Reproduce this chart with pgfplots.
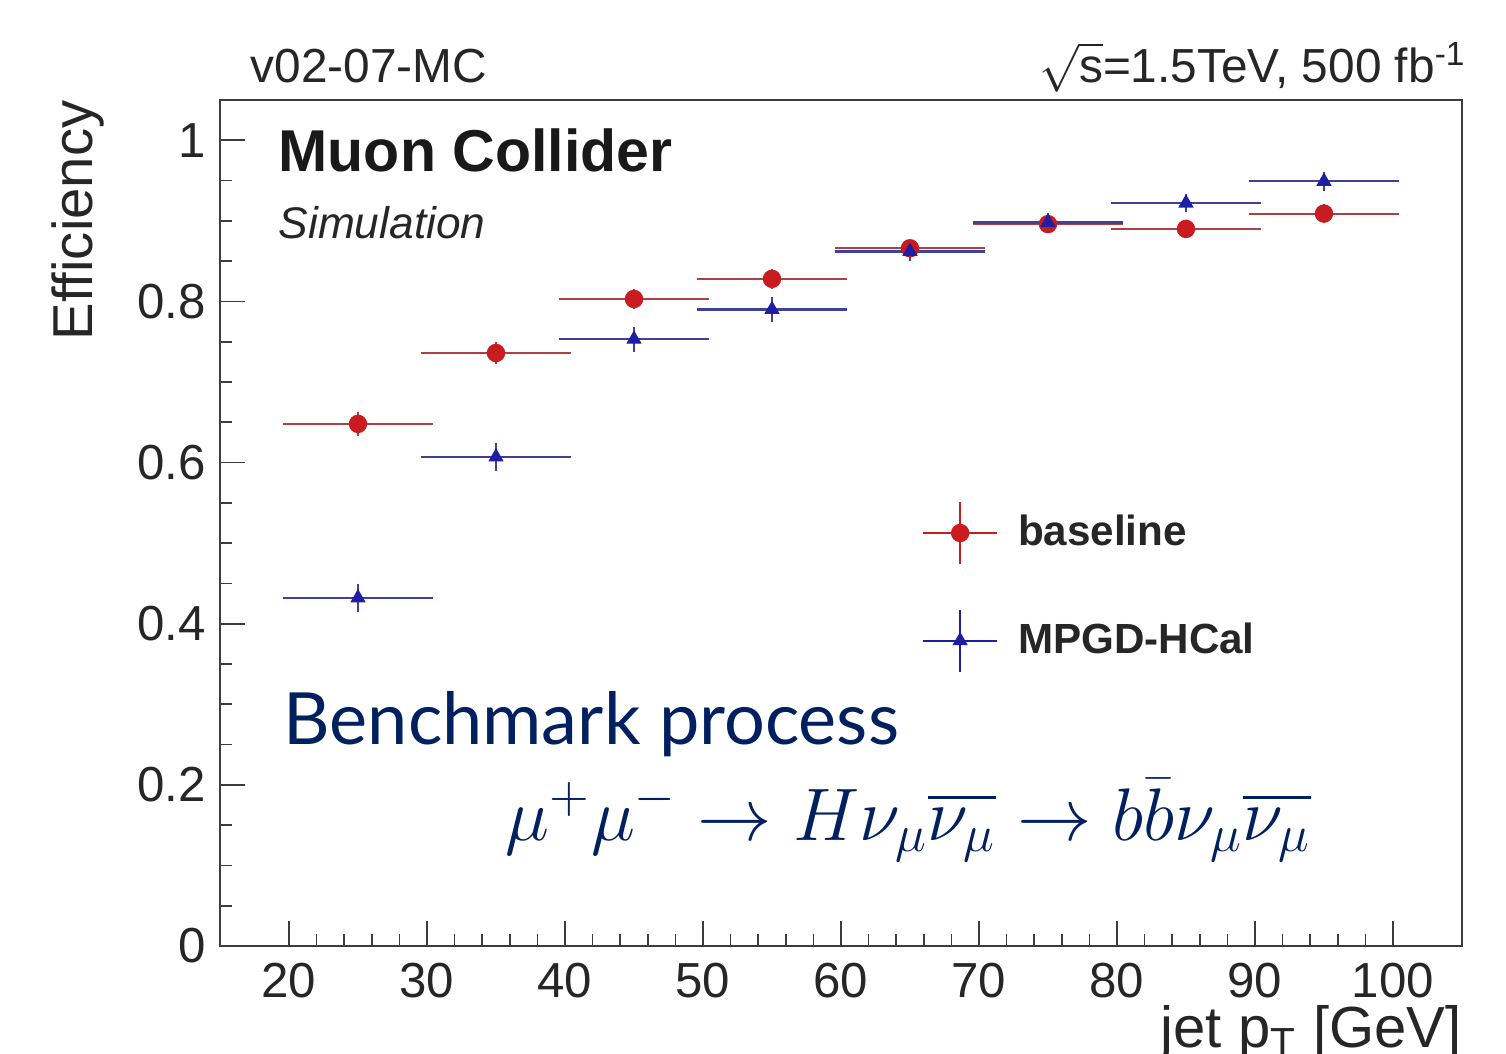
\documentclass[border=0pt]{standalone}
\usepackage{fix-cm}
\usepackage{amsmath}
\usepackage{fontspec}
\setmainfont{Liberation Sans}
\newfontfamily\bmfont{Lato}
\usepackage{pgfplots}
\usepackage{pgfplotstable}
\pgfplotsset{compat=1.18}
\definecolor{rootred}{RGB}{200,28,32}
\definecolor{rootblue}{RGB}{30,30,165}
\definecolor{navy}{RGB}{0,32,96}
\definecolor{axgray}{RGB}{60,60,60}

\pgfplotstableread{
x y ex ey
25 0.648 5 0.007
35 0.736 5 0.006
45 0.803 5 0.005
55 0.828 5 0.005
65 0.866 5 0.004
75 0.896 5 0.004
85 0.890 5 0.004
95 0.909 5 0.004
}\basedata

\pgfplotstableread{
x y ex ey
25 0.432 5 0.010
35 0.607 5 0.010
45 0.753 5 0.008
55 0.790 5 0.008
65 0.862 5 0.005
75 0.898 5 0.004
85 0.922 5 0.004
95 0.949 5 0.004
}\mpgddata

\begin{document}
\begin{tikzpicture}[x=1mm,y=1mm]
\useasboundingbox (0,0) rectangle (150.6,105.3);
\begin{axis}[
  at={(22.0mm,10.7mm)}, anchor=south west,
  width=124.2mm, height=84.6mm, scale only axis,
  xmin=15, xmax=105, ymin=0, ymax=1.05,
  xtick={20,30,...,100}, ytick={0,0.2,0.4,0.6,0.8,1},
  minor x tick num=4, minor y tick num=3,
  tick pos=left, tick align=inside,
  major tick length=2.5mm, minor tick length=1.2mm,
  axis line style={axgray, line width=0.6pt},
  every tick/.style={axgray, line width=0.5pt},
  tick label style={font=\fontsize{14}{16}\selectfont, text=black!85},
  /pgf/number format/assume math mode=true,
  xticklabel style={yshift=-0.5mm},
  yticklabel style={xshift=-0.2mm},
  xlabel={jet p$_{\text{T}}$ [GeV]},
  xlabel style={at={(rel axis cs:1,0)}, anchor=north east, yshift=-5.9mm, inner sep=0pt, font=\fontsize{16.5}{18}\selectfont, text=black!85},
  ylabel={Efficiency},
  ylabel style={at={(rel axis cs:-0.1143,1)}, anchor=east, inner sep=0pt, font=\fontsize{16}{18}\selectfont, text=black!85},
  legend style={at={(axis cs:65.84,0.553)}, anchor=north west, draw=none, fill=none,
    inner sep=0pt, nodes={inner sep=0pt, font=\bfseries\fontsize{12}{14}\selectfont, text=black!85},
    row sep=4.4mm, column sep=2.0mm},
  legend cell align=left,
  legend image code/.code={
    \draw[line width=0.5pt] (-3.7mm,0) -- (3.7mm,0);
    \draw[line width=0.5pt] (0,-3.1mm) -- (0,3.1mm);
    \draw plot coordinates {(0cm,0cm)};
  },
]
\addplot[rootred, only marks, mark=*, mark size=0.85mm,
  error bars/.cd, x dir=both, x explicit, y dir=both, y explicit,
  error bar style={line width=0.6pt, rootred!65!gray},
  error mark options={rootred!65!gray, mark size=0.6mm, line width=0.6pt}]
  table[x=x, y=y, x error=ex, y error=ey] {\basedata};
\addlegendentry{baseline}
\addplot[rootblue, only marks, mark=triangle*, mark size=0.75mm,
  error bars/.cd, x dir=both, x explicit, y dir=both, y explicit,
  error bar style={line width=0.6pt, rootblue!65!gray},
  error mark options={rootblue!65!gray, mark size=0.6mm, line width=0.6pt}]
  table[x=x, y=y, x error=ex, y error=ey] {\mpgddata};
\addlegendentry{MPGD-HCal}
\end{axis}
\node[anchor=base west, inner sep=0pt, font=\bfseries\fontsize{16.8}{19}\selectfont, text=black!90] at (27.8,88.1) {Muon Collider};
\node[anchor=base west, inner sep=0pt, font=\itshape\fontsize{12.6}{15}\selectfont, text=black!85] at (27.8,81.5) {Simulation};
\node[anchor=base west, inner sep=0pt, font=\fontsize{13.6}{15}\selectfont, text=black!85] at (25.0,97.0) {v02-07-MC};
\node[anchor=base east, inner sep=0pt, font=\fontsize{13.6}{15}\selectfont, text=black!85] at (146.7,97.0) {$\sqrt{\text{s}}$=1.5TeV, 500 fb$^{\text{-1}}$};
\node[anchor=base west, inner sep=0pt, font=\bmfont\fontsize{20.5}{24}\selectfont, text=navy] at (28.3,30.8) {Benchmark process};
\node[anchor=base west, inner sep=0pt, font=\fontsize{21.2}{25}\selectfont, text=navy] at (50.5,21.3) {$\mu^{+}\mu^{-}\rightarrow H\nu_{\mu}\overline{\nu_{\mu}}\rightarrow b\bar{b}\nu_{\mu}\overline{\nu_{\mu}}$};
\end{tikzpicture}
\end{document}
